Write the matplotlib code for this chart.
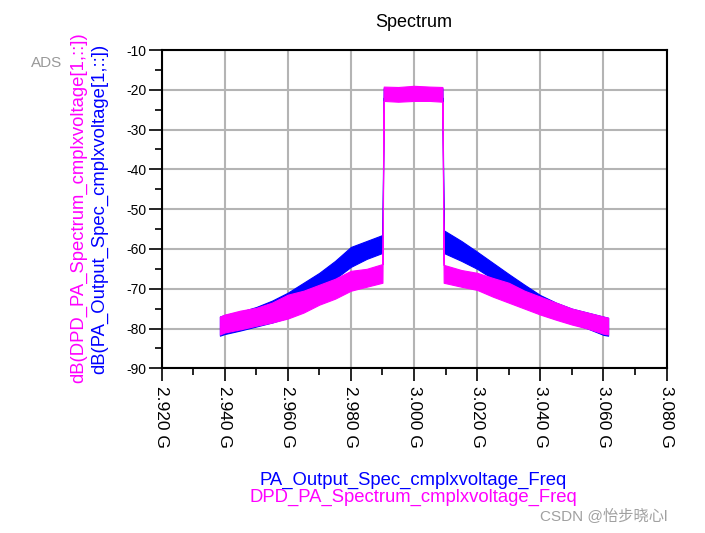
import matplotlib
matplotlib.use('Agg')
import matplotlib.pyplot as plt
from matplotlib.ticker import MultipleLocator

plt.rcParams['font.family'] = ['Liberation Sans', 'DejaVu Sans']

# ---- data (GHz, dB) : envelope of the noisy spectra ----
pa_freq = [2.9385, 2.940, 2.945, 2.950, 2.955, 2.960, 2.965, 2.970, 2.975, 2.980,
           2.985, 2.9900, 2.9904, 2.995, 3.000, 3.005, 3.0090, 3.0094, 3.015,
           3.020, 3.025, 3.030, 3.035, 3.040, 3.045, 3.050, 3.055, 3.060, 3.0615]
pa_low = [-81.8, -81.4, -80.5, -79.5, -78.5, -77.3, -74.5, -71.0, -67.5, -64.5,
          -62.5, -61.0, -22.0, -22.0, -22.0, -22.0, -22.0, -61.0, -63.0,
          -65.0, -67.5, -69.8, -72.5, -76.2, -77.5, -78.7, -80.0, -81.6, -81.8]
pa_high = [-77.0, -76.6, -75.8, -74.6, -73.0, -71.0, -68.5, -66.0, -63.0, -59.5,
           -58.0, -56.5, -19.6, -19.6, -19.6, -19.6, -19.6, -55.3, -58.0,
           -60.7, -63.5, -66.3, -69.0, -71.6, -73.5, -75.0, -76.0, -77.0, -77.3]

dpd_freq = [2.9385, 2.940, 2.945, 2.950, 2.955, 2.960, 2.965, 2.970, 2.975, 2.980,
            2.985, 2.9900, 2.9904, 2.995, 3.000, 3.005, 3.0090, 3.0094, 3.015,
            3.020, 3.025, 3.030, 3.035, 3.040, 3.045, 3.050, 3.055, 3.060, 3.0615]
dpd_low = [-81.5, -81.0, -80.2, -79.3, -78.5, -77.5, -76.0, -74.0, -72.5, -70.5,
           -69.5, -68.5, -22.8, -23.0, -22.8, -22.8, -23.0, -68.5, -69.5,
           -70.3, -72.0, -73.5, -75.0, -76.5, -77.8, -79.0, -80.0, -81.3, -81.5]
dpd_high = [-77.0, -76.5, -75.5, -74.8, -73.5, -71.5, -70.5, -69.0, -67.5, -65.5,
            -65.0, -63.8, -19.2, -19.3, -19.0, -19.2, -19.3, -64.0, -65.3,
            -66.0, -67.3, -68.5, -70.5, -72.0, -73.5, -75.0, -76.0, -77.0, -77.3]

xticks = [2.92, 2.94, 2.96, 2.98, 3.00, 3.02, 3.04, 3.06, 3.08]
xtick_labels = ['2.920 G', '2.940 G', '2.960 G', '2.980 G', '3.000 G',
                '3.020 G', '3.040 G', '3.060 G', '3.080 G']
yticks = [-90, -80, -70, -60, -50, -40, -30, -20, -10]

BLUE = '#0000FF'
MAG = '#FF00FF'

fig = plt.figure(figsize=(7.05, 5.33), dpi=100)
ax = fig.add_axes([161.5 / 705, 1 - 368.3 / 533, 505 / 705, 318.3 / 533])

ax.fill_between(pa_freq, pa_low, pa_high, color=BLUE, lw=0.8, zorder=3)
ax.fill_between(dpd_freq, dpd_low, dpd_high, color=MAG, lw=0.8, zorder=4)

ax.set_xlim(2.92, 3.08)
ax.set_ylim(-90, -10)
ax.set_xticks(xticks)
ax.set_xticklabels(xtick_labels, rotation=-90, fontsize=12.5)
ax.xaxis.set_minor_locator(MultipleLocator(0.01))
ax.set_yticks(yticks)
ax.set_yticklabels([str(v) for v in yticks], fontsize=10)
ax.yaxis.set_minor_locator(MultipleLocator(5))
ax.tick_params(which='major', length=9.5, width=1.2, direction='out', color='black')
ax.tick_params(axis='x', which='major', pad=3)
ax.tick_params(axis='y', which='major', pad=1.5)
ax.tick_params(which='minor', length=5, width=1.2, direction='out', color='black')
ax.grid(True, which='major', color='#b4b4b4', lw=1.5)
ax.set_axisbelow(True)
for s in ax.spines.values():
    s.set_color('black')
    s.set_linewidth(1.5)

fig.text(414 / 705, 1 - 22 / 533, 'Spectrum', fontsize=13, ha='center', va='center')
fig.text(78.5 / 705, 1 - 208 / 533, 'dB(DPD_PA_Spectrum_cmplxvoltage[1,::])',
         rotation=90, color=MAG, fontsize=13.3, ha='center', va='center')
fig.text(99.5 / 705, 1 - 208.5 / 533, 'dB(PA_Output_Spec_cmplxvoltage[1,::])',
         rotation=90, color=BLUE, fontsize=13.3, ha='center', va='center')
fig.text(413.5 / 705, 1 - 480 / 533, 'PA_Output_Spec_cmplxvoltage_Freq',
         color=BLUE, fontsize=13.3, ha='center', va='center')
fig.text(413.5 / 705, 1 - 497 / 533, 'DPD_PA_Spectrum_cmplxvoltage_Freq',
         color=MAG, fontsize=13.3, ha='center', va='center')
fig.text(47 / 705, 1 - 63 / 533, 'ADS', color='#999999', fontsize=11,
         ha='center', va='center', family=['Liberation Sans Narrow', 'Liberation Sans'])
fig.text(540 / 705, 1 - 516 / 533, 'CSDN @怡步晓心l', color='#a0a0a0', fontsize=11,
         ha='left', va='center', family=['Liberation Sans', 'Noto Sans CJK SC'])

fig.savefig('out.png', dpi=100)
